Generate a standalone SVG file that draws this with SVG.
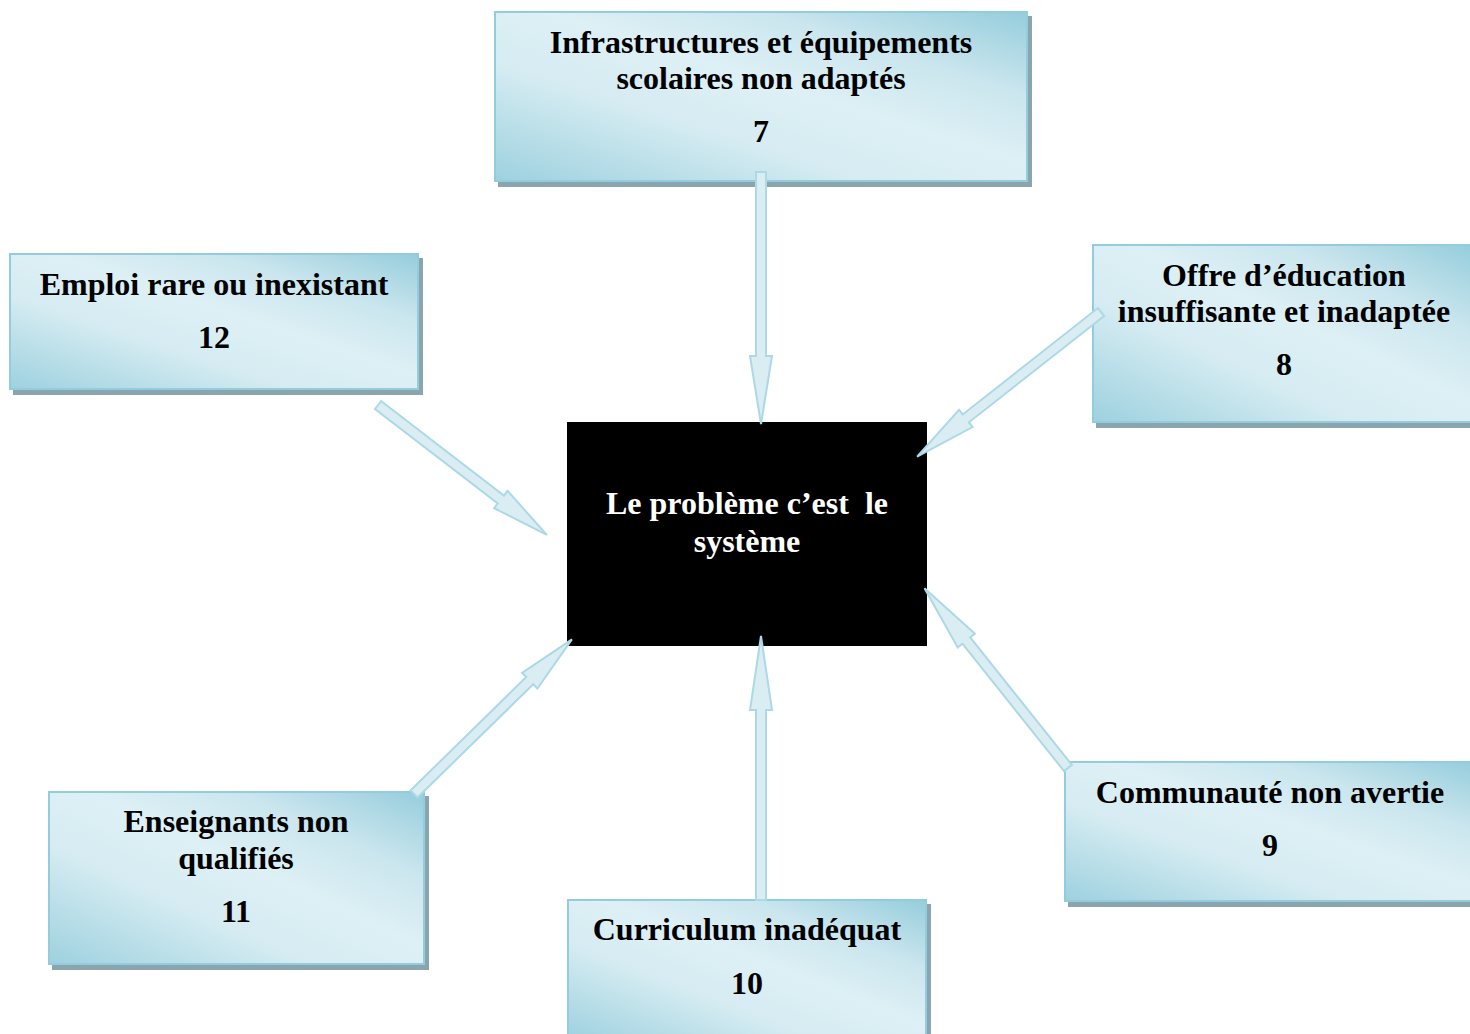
<svg xmlns="http://www.w3.org/2000/svg" width="1470" height="1034" viewBox="0 0 1470 1034">
<defs>
<linearGradient id="g" gradientUnits="objectBoundingBox" x1="0" y1="1" x2="1" y2="0">
<stop offset="0" stop-color="#9dd1df"/>
<stop offset="0.35" stop-color="#d6ecf2"/>
<stop offset="0.55" stop-color="#ddf0f5"/>
<stop offset="0.75" stop-color="#cbe6ee"/>
<stop offset="1" stop-color="#95cddc"/>
</linearGradient>
<filter id="sh" x="-5%" y="-5%" width="115%" height="115%">
<feOffset dx="4" dy="5" in="SourceAlpha" result="o"/>
<feFlood flood-color="#8aa5ad"/>
<feComposite in2="o" operator="in" result="s"/>
<feMerge><feMergeNode in="s"/><feMergeNode in="SourceGraphic"/></feMerge>
</filter>
</defs>
<style>
.box{fill:url(#g);stroke:#93cddd;stroke-width:2;filter:url(#sh)}
.t{font-family:"Liberation Serif","Times New Roman",serif;font-weight:bold;font-size:32px;fill:#000;text-anchor:middle;white-space:pre}
.w{fill:#fff}
.arr{fill:#daedf3;stroke:#acd9e5;stroke-width:2;stroke-linejoin:miter}
</style>

<g id="center">
<rect x="567" y="422" width="360" height="224" fill="#000"/>
<text class="t w" x="747" y="514">Le problème c’est  le</text>
<text class="t w" x="747" y="552">système</text>
</g>

<g id="n7">
<rect class="box" x="495" y="12" width="532" height="169"/>
<text class="t" x="761" y="53">Infrastructures et équipements</text>
<text class="t" x="761" y="89">scolaires non adaptés</text>
<text class="t" x="761" y="142">7</text>
</g>

<g id="n12">
<rect class="box" x="10" y="254" width="408" height="135"/>
<text class="t" x="214" y="295">Emploi rare ou inexistant</text>
<text class="t" x="214" y="348">12</text>
</g>

<g id="n8">
<rect class="box" x="1093" y="245" width="380" height="177"/>
<text class="t" x="1284" y="286">Offre d’éducation</text>
<text class="t" x="1284" y="322">insuffisante et inadaptée</text>
<text class="t" x="1284" y="375">8</text>
</g>

<g id="n11">
<rect class="box" x="49" y="792" width="375" height="172"/>
<text class="t" x="236" y="832">Enseignants non</text>
<text class="t" x="236" y="869">qualifiés</text>
<text class="t" x="236" y="922">11</text>
</g>

<g id="n10">
<rect class="box" x="568" y="900" width="358" height="140"/>
<text class="t" x="747" y="940">Curriculum inadéquat</text>
<text class="t" x="747" y="994">10</text>
</g>

<g id="n9">
<rect class="box" x="1065" y="762" width="410" height="139"/>
<text class="t" x="1270" y="803">Communauté non avertie</text>
<text class="t" x="1270" y="856">9</text>
</g>

<g id="connectors">
<polygon class="arr" points="756,172 766,172 766,356 772,356 761,424 750,356 756,356"/>
<polygon class="arr" points="756,900 766,900 766,710 772,710 761,636 750,710 756,710"/>
<polygon class="arr" transform="translate(378,405) rotate(37.57)" points="0,-5 155,-5 155,-11 213,0 155,11 155,5 0,5"/>
<polygon class="arr" transform="translate(414,794) rotate(-44.4)" points="0,-5 162,-5 162,-11 221,0 162,11 162,5 0,5"/>
<polygon class="arr" transform="translate(1101,312) rotate(141.8)" points="0,-5 172,-5 172,-11 234,0 172,11 172,5 0,5"/>
<polygon class="arr" transform="translate(1068,768) rotate(-128.6)" points="0,-5 163,-5 163,-11 230,0 163,11 163,5 0,5"/>
</g>
</svg>
